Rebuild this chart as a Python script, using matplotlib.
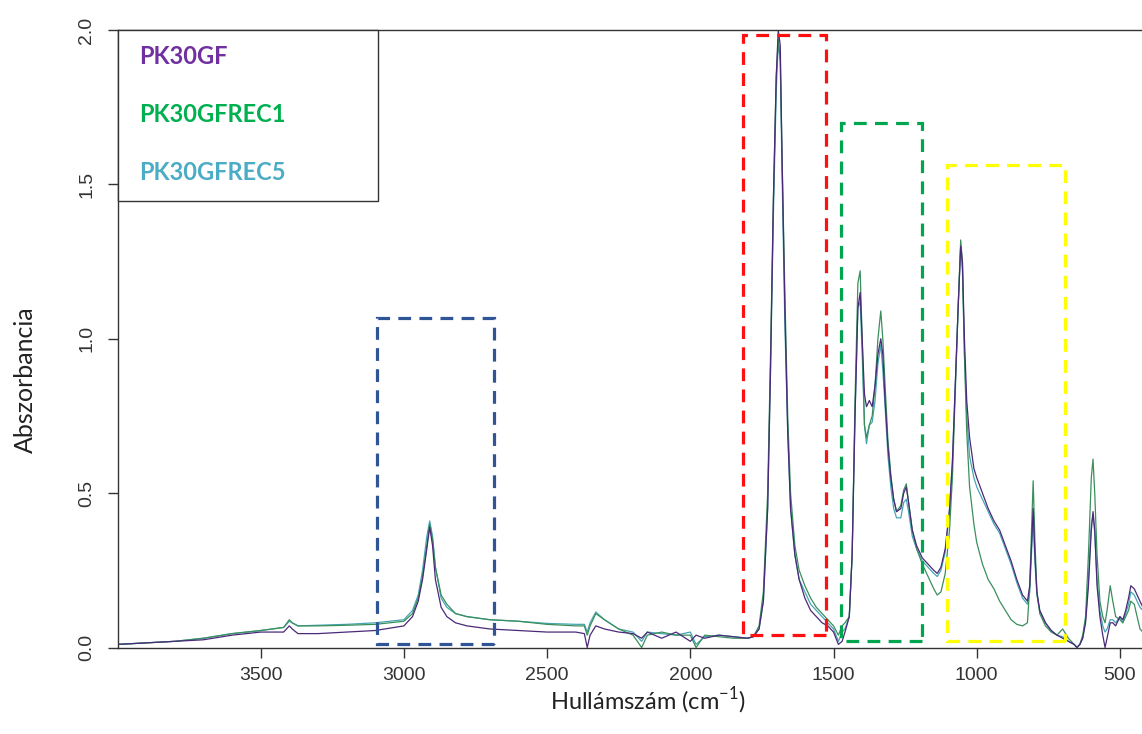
import matplotlib
matplotlib.use("Agg")
import matplotlib.pyplot as plt
from matplotlib.patches import Rectangle

# wavenumbers (cm-1) and absorbance
wavenumber = [4000, 3900, 3800, 3700, 3600, 3500, 3420, 3400, 3390, 3370, 3300, 3200, 3100, 3000,
              2970, 2950, 2935, 2920, 2910, 2900, 2890, 2870, 2850, 2820, 2780, 2700, 2600, 2500,
              2400, 2370, 2360, 2350, 2330, 2300, 2250, 2200, 2170, 2150, 2100, 2050, 2000, 1980,
              1950, 1900, 1850, 1800, 1780, 1760, 1745, 1730, 1720, 1710, 1700, 1693, 1686, 1680,
              1670, 1660, 1650, 1635, 1620, 1600, 1580, 1560, 1540, 1520, 1500, 1483, 1470, 1460,
              1445, 1435, 1425, 1415, 1407, 1400, 1392, 1385, 1375, 1365, 1355, 1345, 1335, 1328,
              1320, 1310, 1300, 1290, 1280, 1265, 1255, 1246, 1238, 1225, 1210, 1190, 1170, 1150,
              1138, 1125, 1110, 1095, 1085, 1075, 1065, 1056, 1050, 1043, 1035, 1025, 1010, 1000,
              980, 960, 940, 920, 900, 880, 860, 840, 823, 815, 808, 803, 797, 790, 780, 760, 740,
              720, 700, 680, 660, 650, 640, 630, 620, 610, 600, 594, 588, 580, 570, 560, 552, 545,
              534, 525, 515, 500, 490, 480, 470, 462, 450, 440, 430, 420]

pk30gf = [.01, .015, .02, .025, .04, .05, .05, .07, .06, .045, .045, .05, .055, .07,
          .10, .15, .22, .32, .39, .33, .22, .13, .10, .08, .07, .06, .055, .05,
          .05, .045, .0, .04, .07, .06, .05, .045, .03, .05, .03, .05, .02, .04,
          .03, .04, .035, .03, .035, .06, .15, .45, .9, 1.45, 1.85, 2.0, 1.95, 1.6,
          1.1, .7, .45, .3, .22, .16, .12, .1, .08, .07, .05, .01, .02, .05,
          .1, .3, .75, 1.1, 1.15, 1.0, .82, .78, .8, .78, .85, .95, 1.0, .95,
          .8, .65, .55, .48, .44, .45, .5, .52, .47, .38, .33, .29, .27, .25,
          .24, .26, .32, .45, .6, .85, 1.1, 1.3, 1.25, 1.0, .8, .68, .58, .55,
          .5, .45, .41, .38, .33, .28, .22, .17, .15, .2, .35, .45, .3, .18, .12, .08, .055,
          .04, .03, .02, .01, .0, .01, .03, .08, .2, .38, .44, .38, .2, .1, .04, .0, .03,
          .08, .08, .07, .1, .09, .12, .16, .2, .19, .17, .15, .13]

pk30gfrec1 = [.01, .015, .02, .03, .045, .055, .065, .09, .08, .07, .07, .072, .075, .085,
              .11, .16, .23, .33, .40, .35, .26, .17, .14, .11, .10, .09, .085, .075,
              .07, .07, .04, .07, .11, .09, .06, .04, .0, .04, .05, .04, .04, .0,
              .04, .035, .03, .03, .035, .07, .18, .5, .95, 1.45, 1.85, 1.97, 1.9, 1.6,
              1.15, .75, .5, .33, .25, .2, .16, .13, .11, .09, .07, .04, .07, .08,
              .1, .3, .8, 1.18, 1.22, 1.0, .72, .68, .72, .75, .85, 1.0, 1.09, 1.0,
              .85, .67, .56, .48, .44, .46, .51, .53, .47, .38, .32, .27, .23, .19,
              .17, .18, .24, .38, .55, .82, 1.1, 1.32, 1.25, .95, .7, .52, .4, .34,
              .27, .22, .19, .15, .12, .09, .075, .07, .08, .2, .4, .54, .35, .18, .11, .07, .05,
              .04, .06, .03, .01, .0, .01, .04, .1, .3, .55, .61, .5, .3, .15, .1, .08, .12,
              .2, .15, .1, .09, .08, .1, .12, .15, .14, .1, .06, .05]

pk30gfrec5 = [.01, .015, .02, .03, .045, .055, .065, .085, .08, .07, .072, .075, .08, .09,
              .12, .17, .25, .36, .41, .36, .26, .16, .13, .11, .10, .09, .085, .078,
              .075, .075, .05, .08, .115, .09, .06, .05, .02, .05, .045, .04, .05, .01,
              .035, .04, .035, .03, .035, .06, .15, .45, .9, 1.4, 1.8, 1.96, 1.9, 1.55,
              1.05, .7, .45, .3, .22, .18, .14, .12, .1, .08, .06, .02, .05, .06,
              .1, .3, .75, 1.1, 1.12, .95, .72, .66, .72, .73, .8, .92, .98, .9,
              .78, .62, .52, .45, .42, .42, .47, .48, .44, .36, .32, .28, .26, .24,
              .23, .25, .31, .44, .6, .85, 1.1, 1.3, 1.22, .95, .75, .62, .55, .52,
              .48, .44, .40, .37, .32, .27, .21, .16, .14, .18, .32, .42, .28, .17, .12, .08, .055,
              .04, .035, .02, .01, .0, .01, .03, .09, .22, .4, .43, .37, .22, .12, .07, .05, .06,
              .09, .09, .08, .1, .08, .11, .14, .18, .17, .15, .13, .12]

# marked regions: (high wavenumber, low wavenumber, bottom, top)
box_hi = [3095, 1815, 1473, 1103]
box_lo = [2684, 1525, 1190, 691]
box_bottom = [0.01, 0.04, 0.02, 0.02]
box_top = [1.068, 1.985, 1.70, 1.563]
box_colors = ["#2F5597", "#FF1010", "#00A550", "#FFFF00"]

legend_labels = ["PK30GF", "PK30GFREC1", "PK30GFREC5"]
legend_colors = ["#7030A0", "#00B050", "#4BACC6"]

W, H = 1142, 734
fig = plt.figure(figsize=(W / 100, H / 100), dpi=100)
ax = fig.add_axes([117.5 / W, (H - 647.5) / H, (W - 117.5) / W, (647.5 - 30) / H])

ax.plot(wavenumber, pk30gfrec5, color="#46A5B5", lw=0.9)
ax.plot(wavenumber, pk30gfrec1, color="#3A8F5C", lw=0.9)
ax.plot(wavenumber, pk30gf, color="#4A2A78", lw=0.9)

for hi, lo, b, t, c in zip(box_hi, box_lo, box_bottom, box_top, box_colors):
    ax.add_patch(Rectangle((lo, b), hi - lo, t - b, fill=False, edgecolor=c,
                           lw=2.3, linestyle=(0, (4, 2.6)), zorder=3, clip_on=False))

ax.set_xlim(4000, 423)
ax.set_ylim(0, 2)
ax.set_xticks([3500, 3000, 2500, 2000, 1500, 1000, 500])
ax.set_yticks([0, 0.5, 1.0, 1.5, 2.0])
ax.set_yticklabels(["0.0", "0.5", "1.0", "1.5", "2.0"], rotation=90, va="center")
ax.tick_params(axis="both", direction="out", length=7, width=1, colors="#333333",
               labelcolor="#333333", labelsize=14)
ax.tick_params(axis="x", pad=7)
ax.tick_params(axis="y", pad=9)
for t in ax.get_xticklabels() + ax.get_yticklabels():
    t.set_family("Liberation Sans")
ax.spines["right"].set_visible(False)
for s in ["left", "bottom", "top"]:
    ax.spines[s].set_color("#333333")
    ax.spines[s].set_linewidth(1)

# legend box
leg = Rectangle((0, (647.5 - 201) / 617.5), (378 - 117.5) / (W - 117.5), (201 - 30) / 617.5,
                transform=ax.transAxes, fill=True, facecolor="white", edgecolor="#333333",
                lw=1, zorder=4, clip_on=False)
ax.add_patch(leg)
for i, (lab, col) in enumerate(zip(legend_labels, legend_colors)):
    fig.text(139 / W, 1 - (57 + i * 57.5) / H, lab, color=col, fontsize=17,
             fontweight="bold", family="Lato", va="center", ha="left", zorder=5)

fig.text(648 / W, 1 - 701 / H, "Hullámszám (cm$^{\\mathregular{-1}}$)", fontsize=17,
         family="Lato", ha="center", va="center", color="#222222")
fig.text(25 / W, 1 - 380 / H, "Abszorbancia", fontsize=18, family="Lato",
         ha="center", va="center", rotation=90, color="#222222")

fig.savefig("out.png", dpi=100)
